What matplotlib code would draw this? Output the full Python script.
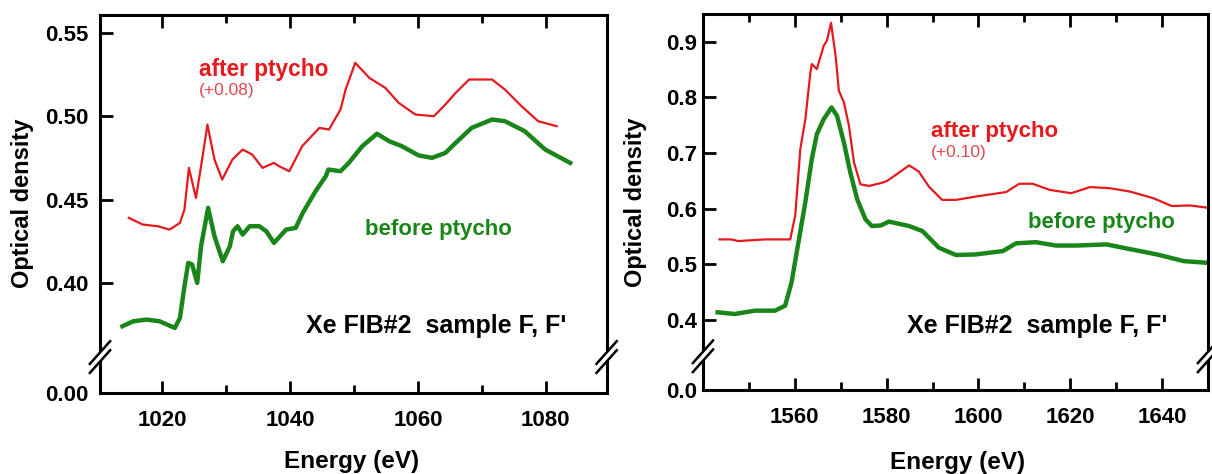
import matplotlib
matplotlib.use("Agg")
import matplotlib.pyplot as plt
from matplotlib.ticker import MultipleLocator

plt.rcParams["font.family"] = ["Liberation Sans", "DejaVu Sans"]
plt.rcParams["font.weight"] = "bold"

RED = "#e5191e"
GREEN = "#1a861a"

# ---- left panel: Xe FIB#2, ~1020-1085 eV ----
left_after_e = [1014.8, 1017.0, 1019.3, 1021.2, 1022.8, 1023.5, 1024.2, 1025.3, 1026.1,
                1027.1, 1028.2, 1029.4, 1031.0, 1032.6, 1034.1, 1035.7, 1037.5, 1038.3,
                1039.9, 1041.9, 1044.6, 1046.1, 1047.9, 1048.7, 1050.2, 1052.4, 1054.9,
                1057.0, 1059.6, 1062.5, 1064.3, 1065.9, 1068.0, 1071.6, 1073.6, 1076.2,
                1078.8, 1081.7]
left_after_od = [0.439, 0.435, 0.434, 0.432, 0.436, 0.444, 0.469, 0.451, 0.470,
                 0.495, 0.474, 0.462, 0.474, 0.480, 0.477, 0.469, 0.472, 0.470,
                 0.467, 0.482, 0.493, 0.492, 0.504, 0.516, 0.532, 0.523, 0.517,
                 0.508, 0.501, 0.500, 0.507, 0.514, 0.522, 0.522, 0.516, 0.506,
                 0.497, 0.494]

left_before_e = [1013.8, 1015.5, 1017.6, 1019.6, 1022.0, 1022.8, 1023.5, 1024.1, 1024.7,
                 1025.5, 1026.1, 1027.2, 1028.2, 1029.5, 1030.6, 1031.1, 1031.8, 1032.6,
                 1033.7, 1035.2, 1036.3, 1037.5, 1039.4, 1040.9, 1042.0, 1044.0, 1045.6,
                 1046.0, 1047.9, 1049.2, 1051.3, 1053.6, 1055.5, 1057.5, 1060.1, 1062.2,
                 1064.3, 1065.9, 1068.4, 1071.6, 1073.6, 1076.7, 1079.9, 1083.8]
left_before_od = [0.374, 0.377, 0.378, 0.377, 0.373, 0.379, 0.398, 0.412, 0.411,
                  0.400, 0.422, 0.445, 0.428, 0.413, 0.422, 0.431, 0.434, 0.429,
                  0.434, 0.434, 0.431, 0.424, 0.432, 0.433, 0.442, 0.455, 0.464,
                  0.468, 0.467, 0.472, 0.482, 0.4895, 0.485, 0.482, 0.4765, 0.475,
                  0.478, 0.484, 0.493, 0.498, 0.497, 0.491, 0.480, 0.472]

# ---- right panel: ~1545-1650 eV ----
right_after_e = [1543.6, 1546.2, 1547.7, 1553.5, 1559.0, 1560.1, 1561.2, 1562.3, 1563.4,
                 1563.7, 1564.8, 1566.3, 1567.0, 1567.9, 1568.9, 1569.6, 1570.7, 1571.8,
                 1572.9, 1574.3, 1576.2, 1579.1, 1580.1, 1582.7, 1584.9, 1587.0, 1589.2,
                 1592.1, 1595.1, 1599.4, 1606.0, 1608.9, 1611.8, 1615.5, 1620.2, 1624.3,
                 1628.6, 1633.0, 1638.1, 1642.1, 1646.1, 1649.8]
right_after_od = [0.545, 0.545, 0.542, 0.545, 0.545, 0.588, 0.707, 0.761, 0.845,
                  0.860, 0.851, 0.893, 0.902, 0.934, 0.874, 0.812, 0.791, 0.749,
                  0.683, 0.644, 0.641, 0.647, 0.650, 0.665, 0.678, 0.667, 0.640,
                  0.616, 0.616, 0.622, 0.630, 0.645, 0.645, 0.634, 0.628, 0.639,
                  0.637, 0.631, 0.619, 0.605, 0.606, 0.602]

right_before_e = [1543.2, 1546.9, 1551.3, 1555.7, 1557.9, 1559.3, 1560.8, 1562.3, 1563.7,
                  1564.8, 1566.3, 1568.0, 1569.2, 1570.7, 1572.1, 1573.6, 1575.4, 1576.8,
                  1578.7, 1580.5, 1584.9, 1587.8, 1591.4, 1595.1, 1599.4, 1605.3, 1608.2,
                  1612.5, 1616.9, 1621.3, 1627.9, 1631.5, 1638.9, 1644.7, 1649.8]
right_before_od = [0.414, 0.411, 0.417, 0.417, 0.426, 0.468, 0.540, 0.612, 0.689,
                   0.734, 0.761, 0.782, 0.767, 0.719, 0.665, 0.617, 0.581, 0.569,
                   0.570, 0.577, 0.569, 0.560, 0.530, 0.517, 0.518, 0.524, 0.538,
                   0.540, 0.534, 0.534, 0.536, 0.530, 0.518, 0.506, 0.503]

left_xticks = [1020, 1040, 1060, 1080]
right_xticks = [1560, 1580, 1600, 1620, 1640]
left_yticks = [0.40, 0.45, 0.50, 0.55]
right_yticks = [0.4, 0.5, 0.6, 0.7, 0.8, 0.9]
sample_label = "Xe FIB#2  sample F, F'"


def draw_break(ax, y):
    # little "//" marks on both vertical spines
    dx, dy, gap = 0.02, 0.03, 0.012
    for x in (0, 1):
        ax.fill([x - dx, x + dx, x + dx, x - dx],
                [y - dy - gap, y + dy - gap, y + dy + gap, y - dy + gap],
                color="white", transform=ax.transAxes, clip_on=False, zorder=5)
        for off in (-gap, gap):
            ax.plot([x - dx, x + dx], [y - dy + off, y + dy + off], color="black",
                    lw=1.8, transform=ax.transAxes, clip_on=False, zorder=6)


def style_axes(ax, xlim, ylim, xticks, yticks, ylabels, ypad):
    ax.set_xlim(*xlim)
    ax.set_ylim(*ylim)
    ax.set_xticks(xticks)
    ax.xaxis.set_minor_locator(MultipleLocator(10))
    ax.set_yticks([ylim[0]] + yticks)
    ax.set_yticklabels(ylabels)
    ax.tick_params(axis="x", which="both", direction="in", top=True, width=2, pad=12,
                   labelsize=16)
    ax.tick_params(axis="x", which="major", length=9)
    ax.tick_params(axis="x", which="minor", length=6)
    ax.tick_params(axis="y", direction="in", length=9, width=2, pad=ypad, labelsize=16,
                   right=False)
    for s in ax.spines.values():
        s.set_linewidth(2.2)
    ax.set_xlabel("Energy (eV)", fontsize=17.5, fontweight="bold")
    ax.set_ylabel("Optical density", fontsize=17, fontweight="bold")


fig = plt.figure(figsize=(12.12, 4.74), dpi=100)

# left panel
ax1 = fig.add_axes([0.0825, 0.171, 0.418, 0.797])
ax1.plot(left_after_e, left_after_od, color=RED, lw=1.6)
ax1.plot(left_before_e, left_before_od, color=GREEN, lw=3.2)
style_axes(ax1, (1010.3, 1089.5), (0.334, 0.5606), left_xticks, left_yticks,
           ["0.00"] + [f"{v:.2f}" for v in left_yticks], ypad=8)
ax1.xaxis.set_label_coords(0.497, -0.15)
ax1.yaxis.set_label_coords(-0.13, 0.503)
draw_break(ax1, 0.095)
ax1.text(0.195, 0.839, "after ptycho", color=RED, fontsize=16.3, transform=ax1.transAxes)
ax1.text(0.195, 0.788, "(+0.08)", color="#e0474c", fontsize=12.5, fontweight="normal",
         transform=ax1.transAxes)
ax1.text(0.523, 0.418, "before ptycho", color=GREEN, fontsize=16, transform=ax1.transAxes)
ax1.text(0.921, 0.159, sample_label, color="black", fontsize=18, ha="right",
         transform=ax1.transAxes)

# right panel
ax2 = fig.add_axes([0.580, 0.177, 0.4167, 0.7932])
ax2.plot(right_after_e, right_after_od, color=RED, lw=1.6)
ax2.plot(right_before_e, right_before_od, color=GREEN, lw=3.2)
style_axes(ax2, (1540, 1650), (0.2743, 0.9497), right_xticks, right_yticks,
           ["0.0"] + [f"{v:.1f}" for v in right_yticks], ypad=4)
ax2.xaxis.set_label_coords(0.505, -0.162)
ax2.yaxis.set_label_coords(-0.11, 0.5)
draw_break(ax2, 0.09)
ax2.text(0.451, 0.673, "after ptycho", color=RED, fontsize=16, transform=ax2.transAxes)
ax2.text(0.451, 0.62, "(+0.10)", color="#e0474c", fontsize=12.5, fontweight="normal",
         transform=ax2.transAxes)
ax2.text(0.644, 0.431, "before ptycho", color=GREEN, fontsize=16, transform=ax2.transAxes)
ax2.text(0.919, 0.152, sample_label, color="black", fontsize=18, ha="right",
         transform=ax2.transAxes)

fig.savefig("out.png", dpi=100)
